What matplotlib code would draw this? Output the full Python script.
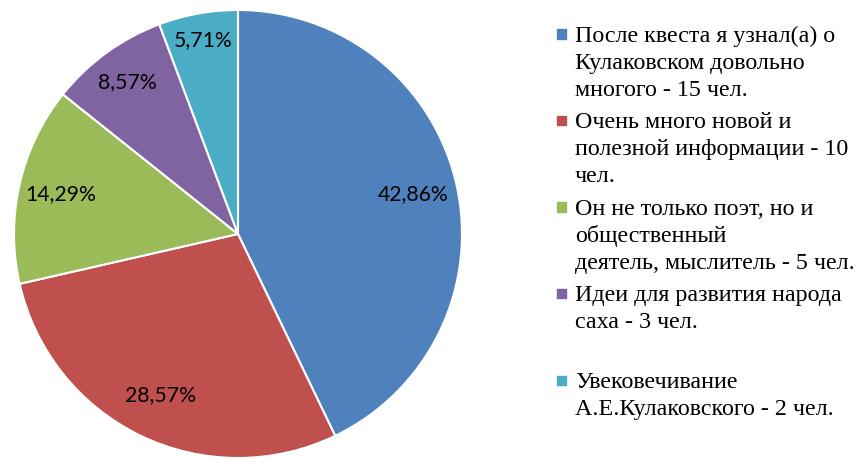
import numpy as np
import matplotlib.pyplot as plt
from matplotlib.patches import Rectangle

# survey answers (people)
labels = [
    "После квеста я узнал(а) о\nКулаковском довольно\nмногого - 15 чел.",
    "Очень много новой и\nполезной информации - 10\nчел.",
    "Он не только поэт, но и\nобщественный\nдеятель, мыслитель - 5 чел.",
    "Идеи для развития народа\nсаха - 3 чел.",
    "Увековечивание\nА.Е.Кулаковского - 2 чел.",
]
counts = [15, 10, 5, 3, 2]
colors = ["#4F81BD", "#C0504D", "#9BBB59", "#8064A2", "#4BACC6"]
# label radius (fraction of radius) for each slice
label_r = [0.80, 0.80, 0.81, 0.84, 0.88]

plt.rcParams['font.serif'] = ['Liberation Serif', 'DejaVu Serif']

W, H = 859, 459
fig = plt.figure(figsize=(W / 100, H / 100), dpi=100)

cx, cy, r = 238, 234, 224
ax = fig.add_axes([(cx - r) / W, (H - cy - r) / H, 2 * r / W, 2 * r / H])
wedges, _ = ax.pie(counts, colors=colors, startangle=90, counterclock=False,
                   wedgeprops=dict(edgecolor="white", linewidth=1.5))
ax.set_xlim(-1, 1)
ax.set_ylim(-1, 1)
ax.set_aspect("equal")
ax.axis("off")

total = sum(counts)
for w, c, lr in zip(wedges, counts, label_r):
    mid = np.deg2rad((w.theta1 + w.theta2) / 2)
    pct = f"{100 * c / total:.2f}%".replace(".", ",")
    ax.text(lr * np.cos(mid), lr * np.sin(mid), pct, ha="center", va="center",
            fontsize=15.3, family=["Lato", "DejaVu Sans"], color="black")

# legend drawn by hand, entries evenly spaced
x_box, x_txt = 557, 575
y0, step = 42, 86.5
for i, (lab, col) in enumerate(zip(labels, colors)):
    base = y0 + i * step
    fig.patches.append(Rectangle((x_box / W, (H - base + 3.5) / H), 9 / W, 9 / H,
                                 transform=fig.transFigure, color=col))
    for j, line in enumerate(lab.split("\n")):
        fig.text(x_txt / W, (H - base - 27 * j) / H, line, ha="left", va="baseline",
                 fontsize=17.3, family="serif")

fig.savefig("out.png", dpi=100)
